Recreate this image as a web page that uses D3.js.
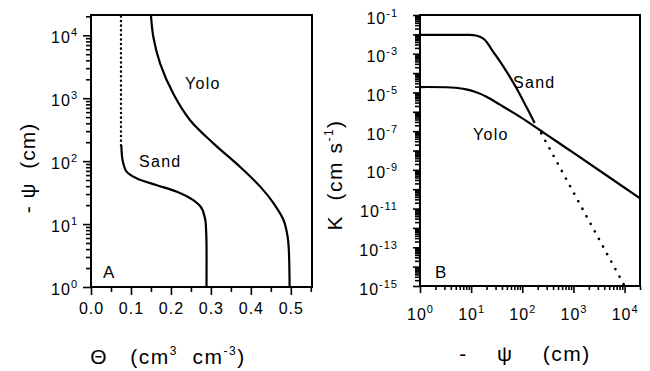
<!DOCTYPE html>
<html>
<head>
<meta charset="utf-8">
<script src="https://cdn.jsdelivr.net/npm/d3@7"></script>
<style>
body { margin: 0; background: #fff; }
svg text { font-family: "Liberation Sans", Arial, sans-serif; fill: #000; }
</style>
</head>
<body>
<svg id="chart" width="650" height="371"></svg>
<script>
// panel A : water content (theta) against suction (-psi, cm)
var sandTheta = [0.289, 0.289, 0.288, 0.286, 0.277, 0.256, 0.215, 0.165, 0.115, 0.089, 0.079, 0.076];
var sandPsi   = [1, 5, 8, 11.6, 17.8, 24, 32.6, 41.5, 53, 68, 104, 179];
var sandDryTheta = [0.075, 0.075];
var sandDryPsi   = [179, 21000];
var yoloTheta = [0.497, 0.495, 0.492, 0.482, 0.457, 0.424, 0.373, 0.307, 0.248, 0.206, 0.173, 0.156, 0.150];
var yoloPsi   = [1, 3.9, 6.3, 11.5, 21.4, 39, 81, 190, 447, 1175, 3550, 9400, 21000];

// panel B : conductivity K (cm/s) against suction
var sandKPsi = [1, 8, 11, 14.8, 18.6, 27, 43, 71, 120, 174];
var sandK    = [9.3e-3, 9.3e-3, 9.1e-3, 7.6e-3, 5.1e-3, 1.26e-3, 2.1e-4, 2.4e-5, 1.8e-6, 2.6e-7];
var sandDotPsi = [234, 10000];
var sandDotK   = [7.8e-8, 1e-15];
var yoloKPsi = [1, 4, 8, 13, 20, 36, 89, 219, 537, 1150, 20000];
var yoloK    = [1.9e-5, 1.8e-5, 1.45e-5, 1.0e-5, 6.0e-6, 2.4e-6, 5.6e-7, 1.15e-7, 2.3e-8, 5.9e-9, 3.4e-11];

// ticks
var thetaMajor = [0, 0.1, 0.2, 0.3, 0.4, 0.5];
var thetaMinor = [0.05, 0.15, 0.25, 0.35, 0.45, 0.55];
var psiMajor = [1, 10, 100, 1000, 10000];
var kMajor = [1e-15, 1e-14, 1e-13, 1e-12, 1e-11, 1e-10, 1e-9, 1e-8, 1e-7, 1e-6, 1e-5, 1e-4, 1e-3, 1e-2, 1e-1];

// minor log ticks 2..9 inside each decade
function minorTicks(lo, hi) {
  var out = [];
  for (var e = Math.floor(Math.log10(lo)); e <= Math.ceil(Math.log10(hi)); e++)
    for (var m = 2; m <= 9; m++) {
      var v = m * Math.pow(10, e);
      if (v >= lo && v <= hi) out.push(v);
    }
  return out;
}

var svg = d3.select("#chart");

// scales
var xA = d3.scaleLinear().domain([0, 0.553]).range([91, 312]);
var yA = d3.scaleLog().domain([1, 21000]).range([287, 15]);
var xB = d3.scaleLog().domain([1, 20000]).range([420, 640]);
var yB = d3.scaleLog().domain([1e-15, 1e-1]).range([286, 15]);

// clip paths
var defs = svg.append("defs");
defs.append("clipPath").attr("id", "clipA").append("rect")
    .attr("x", 91).attr("y", 15).attr("width", 221).attr("height", 272);
defs.append("clipPath").attr("id", "clipB").append("rect")
    .attr("x", 420).attr("y", 15).attr("width", 220).attr("height", 271);

// superscript labels "10^n"
function powLabel(sel, onlyOdd) {
  sel.each(function(d) {
    var e = Math.round(Math.log10(d));
    var t = d3.select(this);
    t.text(null);
    if (onlyOdd && Math.abs(e) % 2 == 0) return;
    t.append("tspan").text("10");
    t.append("tspan").attr("dy", "-7").attr("font-size", "11px").text(e);
  });
}

function styleAxis(g) {
  g.select(".domain").remove();
  g.selectAll("line").attr("stroke", "#000").attr("stroke-width", 1.6);
  g.selectAll("text").attr("font-size", "16px").attr("letter-spacing", "1px").attr("fill", "#000");
}

// ---------- panel A ----------
var gA = svg.append("g");

var axA_x = gA.append("g").attr("transform", "translate(0,287)")
    .call(d3.axisBottom(xA).tickValues(thetaMajor).tickSize(8).tickPadding(8).tickFormat(d3.format(".1f")));
styleAxis(axA_x);
var axA_xm = gA.append("g").attr("transform", "translate(0,287)")
    .call(d3.axisBottom(xA).tickValues(thetaMinor).tickSize(5).tickFormat(""));
styleAxis(axA_xm);

var axA_y = gA.append("g").attr("transform", "translate(91,0)")
    .call(d3.axisLeft(yA).tickValues(psiMajor).tickSize(8).tickPadding(5));
styleAxis(axA_y);
axA_y.selectAll(".tick text").attr("dy", "0.45em").call(powLabel, false);
var axA_ym = gA.append("g").attr("transform", "translate(91,0)")
    .call(d3.axisLeft(yA).tickValues(minorTicks(1, 21000)).tickSize(5).tickFormat(""));
styleAxis(axA_ym);

var lineA = d3.line()
    .x(function(d) { return xA(d[0]); })
    .y(function(d) { return yA(d[1]); })
    .curve(d3.curveCatmullRom.alpha(0.5));

var curvesA = gA.append("g").attr("clip-path", "url(#clipA)");
curvesA.append("path")
    .datum(d3.zip(sandTheta, sandPsi))
    .attr("d", lineA).attr("fill", "none").attr("stroke", "#000").attr("stroke-width", 2.2);
curvesA.append("path")
    .datum(d3.zip(sandDryTheta, sandDryPsi))
    .attr("d", lineA.curve(d3.curveLinear)).attr("fill", "none").attr("stroke", "#000")
    .attr("stroke-width", 2.4).attr("stroke-linecap", "round").attr("stroke-dasharray", "0.1 4.5");
lineA.curve(d3.curveCatmullRom.alpha(0.5));
curvesA.append("path")
    .datum(d3.zip(yoloTheta, yoloPsi))
    .attr("d", lineA).attr("fill", "none").attr("stroke", "#000").attr("stroke-width", 2.2);

gA.append("rect").attr("x", 91).attr("y", 15).attr("width", 221).attr("height", 272)
    .attr("fill", "none").attr("stroke", "#000").attr("stroke-width", 2);

gA.append("text").attr("x", 185).attr("y", 89).attr("font-size", "16px").attr("letter-spacing", "1.3px").text("Yolo");
gA.append("text").attr("x", 139).attr("y", 167).attr("font-size", "16px").attr("letter-spacing", "1.3px").text("Sand");
gA.append("text").attr("x", 103).attr("y", 278).attr("font-size", "17px").text("A");

// axis titles A
gA.append("text").attr("transform", "translate(35,168) rotate(-90)")
    .attr("text-anchor", "middle").attr("font-size", "21px").attr("letter-spacing", "1px").style("white-space", "pre")
    .text("- \u03c8  (cm)");

var tAx = gA.append("text").attr("x", 168).attr("y", 364)
    .attr("text-anchor", "middle").attr("font-size", "21px").attr("letter-spacing", "1.5px").style("white-space", "pre");
tAx.append("tspan").text("\u0398   (cm");
tAx.append("tspan").attr("dy", "-9").attr("font-size", "12px").text("3");
tAx.append("tspan").attr("dy", "9").text("  cm");
tAx.append("tspan").attr("dy", "-9").attr("font-size", "12px").text("-3");
tAx.append("tspan").attr("dy", "9").text(")");

// ---------- panel B ----------
var gB = svg.append("g");

var axB_x = gB.append("g").attr("transform", "translate(0,286)")
    .call(d3.axisBottom(xB).tickValues(psiMajor).tickSize(7));
styleAxis(axB_x);
axB_x.selectAll(".tick text").attr("y", 34).attr("dy", 0).call(powLabel, false);
var axB_xm = gB.append("g").attr("transform", "translate(0,286)")
    .call(d3.axisBottom(xB).tickValues(minorTicks(1, 20000)).tickSize(4).tickFormat(""));
styleAxis(axB_xm);

var axB_y = gB.append("g").attr("transform", "translate(420,0)")
    .call(d3.axisLeft(yB).tickValues(kMajor).tickSize(7));
styleAxis(axB_y);
axB_y.selectAll(".tick text").attr("x", -22).attr("dy", "0.5em").call(powLabel, true);
var axB_ym = gB.append("g").attr("transform", "translate(420,0)")
    .call(d3.axisLeft(yB).tickValues(minorTicks(1e-15, 1e-1)).tickSize(5).tickFormat(""));
styleAxis(axB_ym);

var lineB = d3.line()
    .x(function(d) { return xB(d[0]); })
    .y(function(d) { return yB(d[1]); })
    .curve(d3.curveCatmullRom.alpha(0.5));

var curvesB = gB.append("g").attr("clip-path", "url(#clipB)");
curvesB.append("path")
    .datum(d3.zip(sandKPsi, sandK))
    .attr("d", lineB).attr("fill", "none").attr("stroke", "#000").attr("stroke-width", 2.2);
curvesB.append("path")
    .datum(d3.zip(yoloKPsi, yoloK))
    .attr("d", lineB).attr("fill", "none").attr("stroke", "#000").attr("stroke-width", 2.2);
curvesB.append("path")
    .datum(d3.zip(sandDotPsi, sandDotK))
    .attr("d", lineB.curve(d3.curveLinear)).attr("fill", "none").attr("stroke", "#000")
    .attr("stroke-width", 2.6).attr("stroke-linecap", "round").attr("stroke-dasharray", "0.1 8.5");

gB.append("rect").attr("x", 420).attr("y", 15).attr("width", 220).attr("height", 271)
    .attr("fill", "none").attr("stroke", "#000").attr("stroke-width", 2);

gB.append("text").attr("x", 513).attr("y", 88).attr("font-size", "16px").attr("letter-spacing", "1.3px").text("Sand");
gB.append("text").attr("x", 473).attr("y", 140).attr("font-size", "16px").attr("letter-spacing", "1.3px").text("Yolo");
gB.append("text").attr("x", 435).attr("y", 278).attr("font-size", "17px").text("B");

// axis titles B
var tBy = gB.append("text").attr("transform", "translate(342,175) rotate(-90)")
    .attr("text-anchor", "middle").attr("font-size", "21px").attr("letter-spacing", "1.5px").style("white-space", "pre");
tBy.append("tspan").text("K  (cm s");
tBy.append("tspan").attr("dy", "-9").attr("font-size", "12px").text("-1");
tBy.append("tspan").attr("dy", "9").text(")");

gB.append("text").attr("x", 525).attr("y", 361)
    .attr("text-anchor", "middle").attr("font-size", "21px").attr("letter-spacing", "1.5px").style("white-space", "pre")
    .text("-    \u03c8    (cm)");
</script>
</body>
</html>
